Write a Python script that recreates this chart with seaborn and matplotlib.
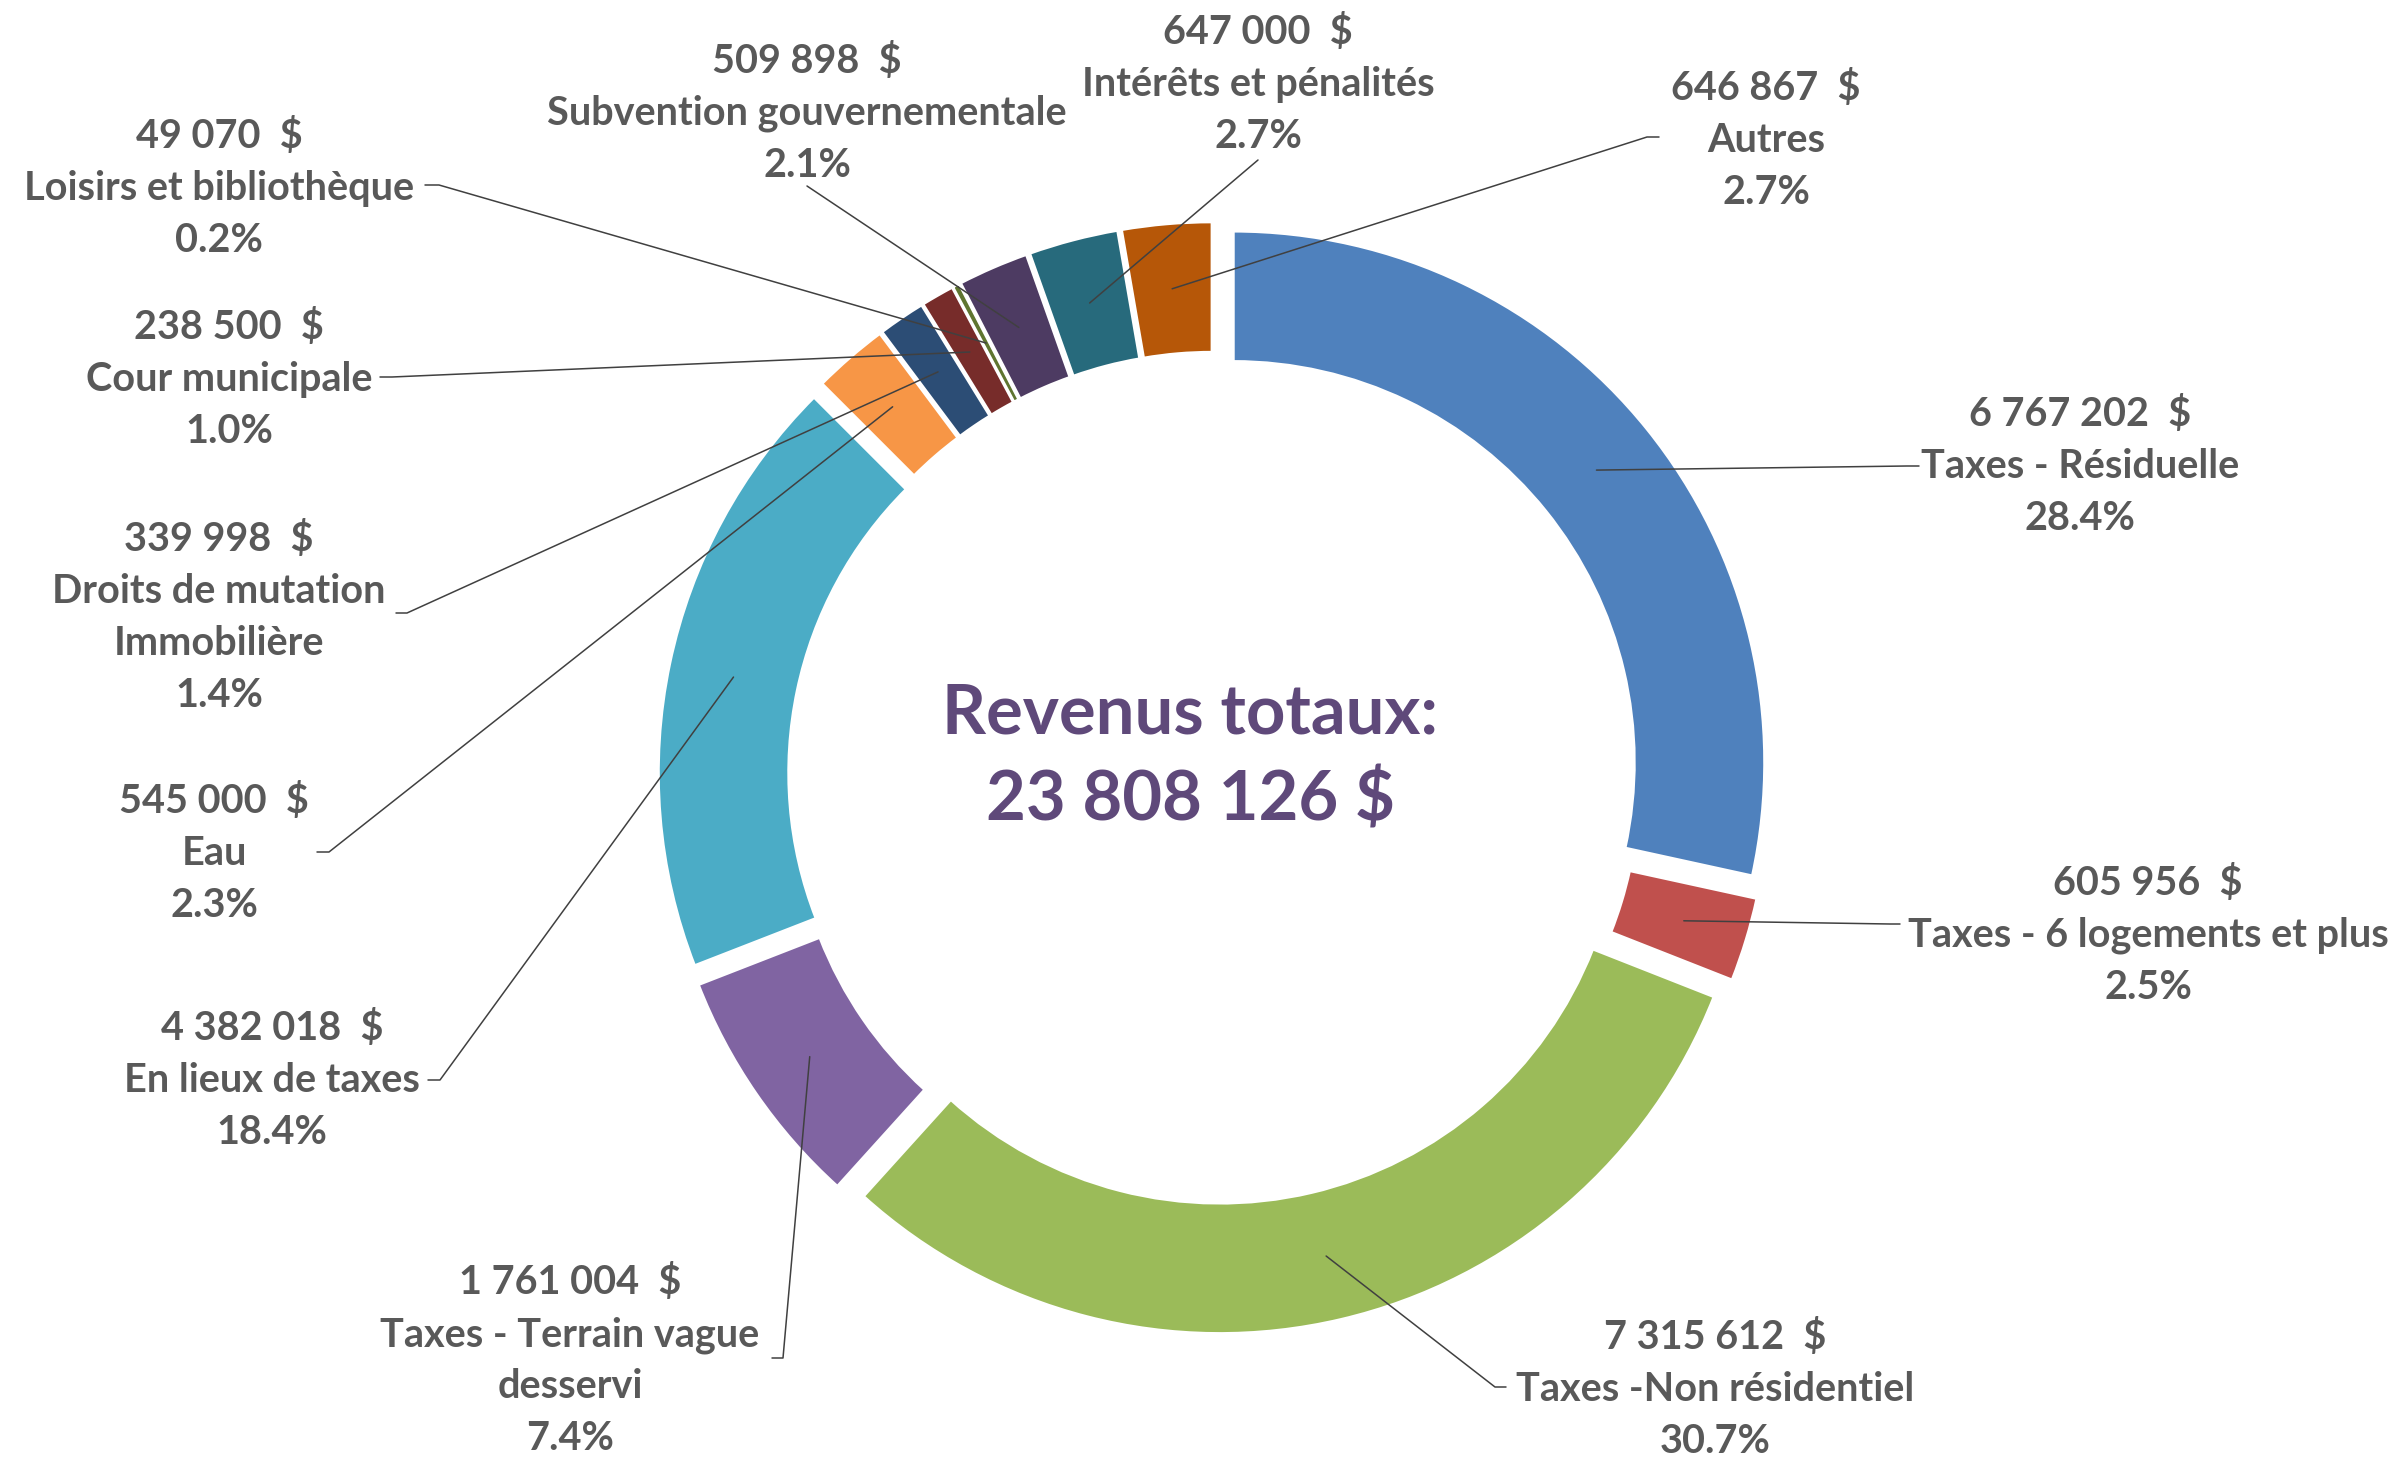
import matplotlib
matplotlib.use('Agg')
from matplotlib import pyplot as plt
import numpy as np
import seaborn as sns

# Data
categories = ['Taxes - Résiduelle', 'Taxes - 6 logements et plus', 'Taxes -Non résidentiel',
              'Taxes - Terrain vague\ndesservi', 'En lieux de taxes', 'Eau',
              'Droits de mutation\nImmobilière', 'Cour municipale', 'Loisirs et bibliothèque',
              'Subvention gouvernementale', 'Intérêts et pénalités', 'Autres']
revenus = [6767202, 605956, 7315612, 1761004, 4382018, 545000,
           339998, 238500, 49070, 509898, 647000, 646867]
total_affiche = 23808126
center_title = 'Revenus totaux:'

couleurs = ['#4F81BD', '#C0504D', '#9BBB59', '#8064A2', '#4BACC6', '#F79646',
            '#2C4D75', '#772C2A', '#5F7530', '#4D3B62', '#276A7C', '#B65708']

# Layout (pixels from top-left of the 2398x1457 image)
W, H = 2398, 1457
CX, CY = 1214, 778
R_OUT, RING, EXPL = 531, 130, 25
label_pos = [(2080, 413), (2148, 882), (1715, 1336), (570, 1281), (272, 1027), (214, 800),
             (219, 538), (229, 326), (219, 135), (807, 60), (1258, 31), (1766, 87)]
leader_start = [[(1919, 466), (1907, 466)], [(1900, 924), (1890, 924)],
                [(1506, 1387), (1495, 1387)], [(772, 1358), (783, 1358)],
                [(428, 1080), (440, 1080)], [(317, 852), (329, 852)],
                [(396, 613), (407, 613)], [(380, 377), (392, 377)],
                [(425, 185), (439, 185)], [(807, 186)], [(1258, 160)],
                [(1659, 137), (1647, 137)]]
LINE_STEP = 52

sns.set_theme(style='white')
plt.rcParams['font.family'] = ['Lato', 'DejaVu Sans']
TXT = '#595959'

fig = plt.figure(figsize=(W / 100, H / 100), dpi=100)
ax = fig.add_axes([0, 0, 1, 1])
palette = sns.color_palette(couleurs)

wedges, _ = ax.pie(revenus, colors=palette, startangle=90, counterclock=False,
                   radius=R_OUT, center=(CX, -CY), explode=[EXPL] * len(revenus),
                   wedgeprops=dict(width=RING, edgecolor='white', linewidth=1.8))
ax.set_xlim(0, W)
ax.set_ylim(-H, 0)
ax.set_aspect('equal')
ax.axis('off')

somme = sum(revenus)
for w, cat, val, (lx, ly), start in zip(wedges, categories, revenus, label_pos, leader_start):
    lines = [f"{val:,}".replace(',', ' ') + '  $'] + cat.split('\n') + [f"{100 * val / somme:.1f}%"]
    for i, t in enumerate(lines):
        ax.text(lx, -(ly + 13 + i * LINE_STEP), t, ha='center', va='baseline',
                fontsize=28.5, fontweight='bold', color=TXT)
    # leader line ends in the middle of the ring, on the slice bisector
    ang = np.deg2rad((w.theta1 + w.theta2) / 2)
    rm = w.r - w.width / 2
    ex, ey = w.center[0] + rm * np.cos(ang), w.center[1] + rm * np.sin(ang)
    xs = [p[0] for p in start] + [ex]
    ys = [-p[1] for p in start] + [ey]
    ax.plot(xs, ys, color='#404040', lw=1.1, zorder=5)

ax.text(1190, -734, center_title, ha='center', va='baseline', fontsize=49.5,
        fontweight='bold', color='#5F497A')
ax.text(1190, -821, f"{total_affiche:,}".replace(',', ' ') + ' $', ha='center',
        va='baseline', fontsize=49.5, fontweight='bold', color='#5F497A')

fig.savefig('out.png', dpi=100, facecolor='white')
